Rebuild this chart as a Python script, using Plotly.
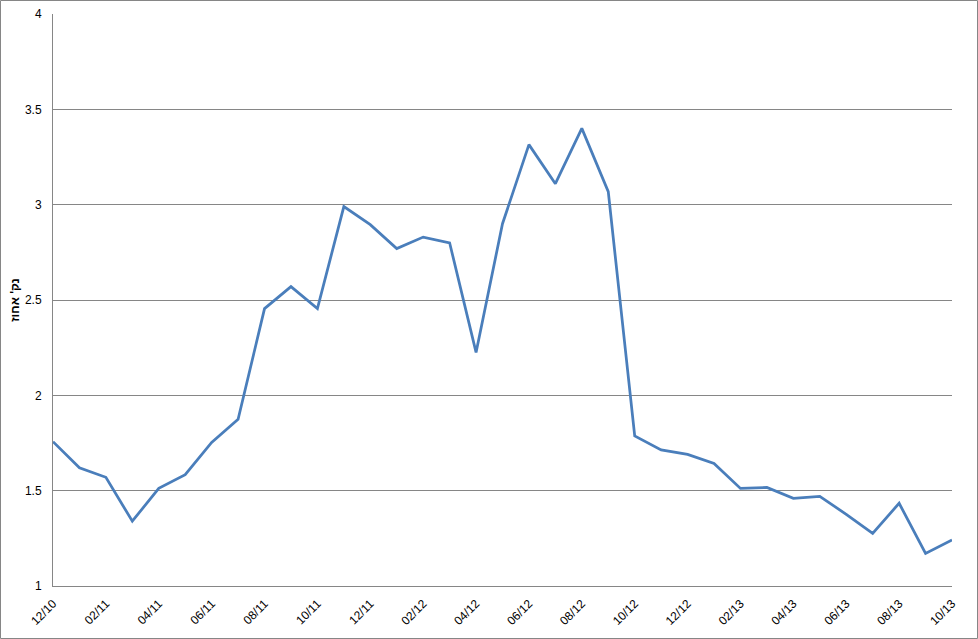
import plotly.graph_objects as go

months = ["12/10", "01/11", "02/11", "03/11", "04/11", "05/11", "06/11", "07/11", "08/11", "09/11",
          "10/11", "11/11", "12/11", "01/12", "02/12", "03/12", "04/12", "05/12", "06/12", "07/12",
          "08/12", "09/12", "10/12", "11/12", "12/12", "01/13", "02/13", "03/13", "04/13", "05/13",
          "06/13", "07/13", "08/13", "09/13", "10/13"]
values = [1.757, 1.62, 1.57, 1.34, 1.512, 1.584, 1.753, 1.874, 2.455, 2.57,
          2.455, 2.99, 2.895, 2.77, 2.83, 2.80, 2.225, 2.90, 3.315, 3.11,
          3.40, 3.068, 1.787, 1.714, 1.69, 1.643, 1.512, 1.517, 1.46, 1.47,
          1.376, 1.276, 1.434, 1.171, 1.241]
tick_labels = months[::2]
y_title = "נק' אחוז"

fig = go.Figure()
fig.add_trace(go.Scatter(x=months, y=values, mode="lines",
                         line=dict(color="#4A7EBB", width=2.75), hoverinfo="x+y"))

W, H = 978, 639
L, R, T, B = 53, 26, 14, 53
pw, ph = W - L - R, H - T - B

fig.update_layout(
    width=W, height=H,
    margin=dict(l=L, r=R, t=T, b=B, autoexpand=False),
    paper_bgcolor="white", plot_bgcolor="white",
    showlegend=False,
    font=dict(family="Arial, Liberation Sans, sans-serif", color="#000000"),
    xaxis=dict(type="category", categoryorder="array", categoryarray=months,
               range=[0, len(months) - 1], automargin=False,
               tickmode="array", tickvals=tick_labels, ticktext=tick_labels,
               tickangle=-45, tickfont=dict(size=12, color="#000000"),
               ticklabelstandoff=5,
               showgrid=False, showline=True, linecolor="#868686", linewidth=1,
               ticks="", zeroline=False),
    yaxis=dict(range=[1, 4], automargin=False,
               tickmode="array", tickvals=[1, 1.5, 2, 2.5, 3, 3.5, 4],
               ticktext=["1", "1.5", "2", "2.5", "3", "3.5", "4"],
               tickfont=dict(size=12, color="#000000"),
               ticklabelstandoff=8,
               showgrid=True, gridcolor="#868686", gridwidth=1,
               showline=True, linecolor="#868686", linewidth=1,
               ticks="", zeroline=False,
               title=dict(text="<b>" + y_title + "</b>", font=dict(size=12, color="#000000"),
                          standoff=2)),
    shapes=[dict(type="rect", xref="paper", yref="paper",
                 x0=(0.5 - L) / pw, x1=(W - 0.5 - L) / pw,
                 y0=(T + ph - (H - 0.5)) / ph, y1=(T + ph - 0.5) / ph,
                 line=dict(color="#868686", width=1), fillcolor="rgba(0,0,0,0)", layer="below")],
)

fig.write_html("out.html", config={"displayModeBar": False},
               post_script="document.body.style.margin='0';document.body.style.overflow='hidden';")
